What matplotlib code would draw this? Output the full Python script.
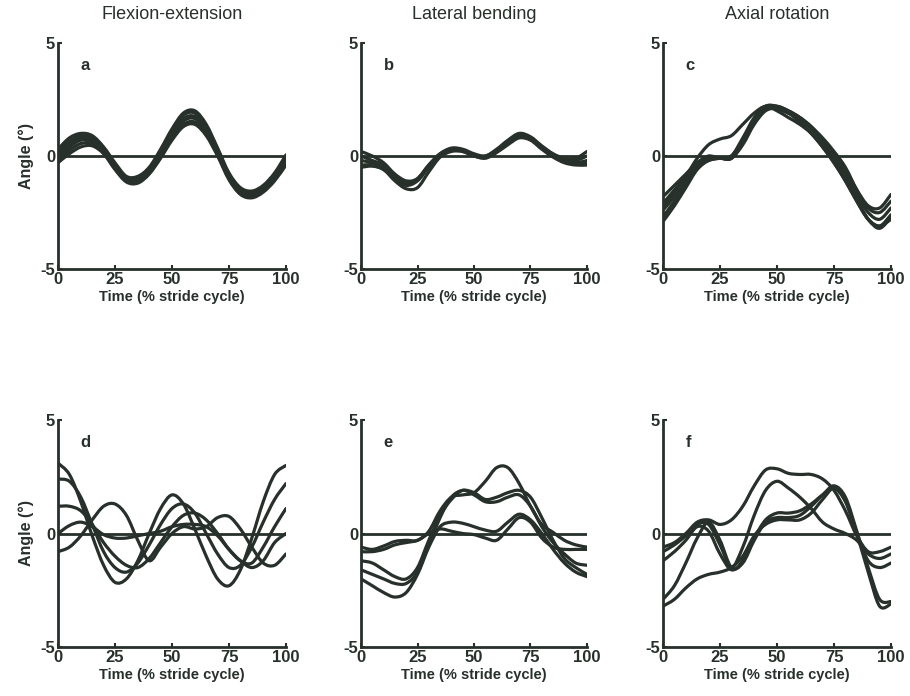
import matplotlib
matplotlib.use("Agg")
import matplotlib.pyplot as plt
from matplotlib.path import Path
from matplotlib.patches import PathPatch
import numpy as np

plt.rcParams['font.family'] = ['Liberation Sans', 'DejaVu Sans']
plt.rcParams['axes.unicode_minus'] = False

# ---------------- data ----------------
time_pct = [0, 5, 10, 15, 20, 25, 30, 35, 40, 45, 50, 55, 60, 65, 70, 75, 80, 85, 90, 95, 100]

col_titles = ["Flexion-extension", "Lateral bending", "Axial rotation"]
panel_letters = ["a", "b", "c", "d", "e", "f"]
x_ticks = [0, 25, 50, 75, 100]
y_ticks = [-5, 0, 5]

# panel a: flexion-extension (top)
a1 = [0.3, 0.8, 1.0, 0.9, 0.4, -0.3, -0.9, -0.9, -0.5, 0.3, 1.2, 1.9, 2.0, 1.4, 0.35, -0.75, -1.4, -1.55, -1.3, -0.75, 0.05]
a2 = [0.15, 0.65, 0.9, 0.85, 0.35, -0.4, -0.95, -0.95, -0.55, 0.2, 1.1, 1.8, 1.9, 1.3, 0.3, -0.85, -1.5, -1.65, -1.4, -0.85, -0.1]
a3 = [0.0, 0.5, 0.8, 0.75, 0.25, -0.45, -1.0, -1.0, -0.6, 0.1, 1.0, 1.65, 1.75, 1.2, 0.2, -0.9, -1.55, -1.7, -1.45, -0.9, -0.2]
a4 = [-0.1, 0.4, 0.7, 0.65, 0.2, -0.5, -1.05, -1.1, -0.7, 0.0, 0.9, 1.55, 1.65, 1.1, 0.1, -0.95, -1.6, -1.75, -1.5, -0.95, -0.25]
a5 = [-0.2, 0.25, 0.55, 0.55, 0.15, -0.55, -1.1, -1.15, -0.75, -0.05, 0.8, 1.4, 1.5, 1.0, 0.05, -1.0, -1.65, -1.8, -1.55, -1.0, -0.3]
a6 = [-0.3, 0.1, 0.4, 0.45, 0.1, -0.6, -1.15, -1.2, -0.8, -0.1, 0.7, 1.3, 1.4, 0.9, 0.0, -1.05, -1.7, -1.85, -1.6, -1.1, -0.4]

# panel b: lateral bending (top)
b1 = [0.2, 0.0, -0.3, -0.8, -1.1, -1.0, -0.4, 0.1, 0.35, 0.3, 0.1, 0.0, 0.3, 0.7, 1.0, 0.85, 0.45, 0.1, -0.1, -0.1, 0.2]
b2 = [0.0, -0.2, -0.4, -0.9, -1.2, -1.0, -0.4, 0.1, 0.3, 0.25, 0.05, 0.0, 0.25, 0.65, 0.95, 0.8, 0.4, 0.05, -0.15, -0.2, 0.0]
b3 = [-0.2, -0.3, -0.5, -0.9, -1.25, -1.05, -0.45, 0.05, 0.3, 0.25, 0.05, -0.05, 0.2, 0.6, 0.9, 0.75, 0.35, 0.0, -0.2, -0.3, -0.2]
b4 = [-0.4, -0.4, -0.6, -1.0, -1.3, -1.1, -0.5, 0.0, 0.25, 0.2, 0.0, -0.05, 0.2, 0.55, 0.85, 0.75, 0.35, 0.0, -0.25, -0.35, -0.3]
b5 = [-0.5, -0.45, -0.6, -1.1, -1.45, -1.4, -0.7, -0.05, 0.2, 0.2, 0.0, -0.1, 0.15, 0.5, 0.8, 0.7, 0.3, -0.05, -0.3, -0.4, -0.4]

# panel c: axial rotation (top)
c1 = [-1.8, -1.3, -0.8, -0.3, 0.0, -0.1, 0.0, 0.8, 1.7, 2.2, 2.1, 1.9, 1.6, 1.2, 0.7, 0.1, -0.6, -1.5, -2.2, -2.3, -1.7]
c2 = [-2.1, -1.5, -0.9, -0.3, -0.1, -0.1, 0.0, 0.7, 1.6, 2.1, 2.1, 1.9, 1.7, 1.3, 0.8, 0.2, -0.5, -1.5, -2.3, -2.5, -2.0]
c3 = [-2.4, -1.8, -1.1, -0.4, -0.1, -0.1, -0.1, 0.6, 1.5, 2.1, 2.2, 2.0, 1.7, 1.3, 0.7, 0.0, -0.8, -1.7, -2.5, -2.8, -2.3]
c4 = [-2.7, -2.0, -1.3, -0.5, -0.2, -0.1, -0.1, 0.5, 1.4, 2.0, 2.1, 1.9, 1.5, 1.0, 0.4, -0.3, -1.1, -2.0, -2.8, -3.1, -2.6]
c5 = [-2.3, -1.6, -0.9, -0.1, 0.5, 0.75, 0.9, 1.4, 1.9, 2.2, 2.0, 1.7, 1.4, 1.0, 0.4, -0.3, -1.1, -2.0, -2.8, -3.1, -2.8]
c6 = [-2.9, -2.2, -1.4, -0.6, -0.2, -0.1, -0.1, 0.6, 1.6, 2.2, 2.2, 2.0, 1.7, 1.2, 0.6, -0.1, -1.0, -1.9, -2.8, -3.2, -2.7]

# panel d: flexion-extension (bottom)
d1 = [3.1, 2.6, 1.4, -0.1, -1.4, -2.15, -2.0, -1.2, 0.0, 1.1, 1.7, 1.3, 0.2, -1.0, -2.0, -2.3, -1.6, -0.2, 1.4, 2.6, 3.0]
d2 = [2.4, 2.3, 1.6, 0.4, -0.8, -1.5, -1.7, -1.3, -0.5, 0.4, 1.1, 1.3, 0.9, 0.0, -0.9, -1.5, -1.4, -0.6, 0.5, 1.5, 2.2]
d3 = [1.2, 1.2, 1.0, 0.4, -0.4, -1.0, -1.4, -1.5, -1.1, -0.4, 0.3, 0.8, 0.9, 0.6, 0.0, -0.7, -1.2, -1.3, -0.6, 0.3, 1.1]
d4 = [0.0, 0.35, 0.5, 0.3, -0.05, -0.2, -0.2, -0.1, 0.0, 0.1, 0.3, 0.4, 0.4, 0.3, -0.1, -0.7, -1.2, -1.5, -1.2, -0.4, 0.0]
d5 = [-0.8, -0.6, -0.1, 0.6, 1.2, 1.3, 0.8, -0.3, -1.2, -0.6, 0.0, 0.3, 0.2, 0.3, 0.7, 0.75, 0.2, -0.6, -1.3, -1.4, -0.9]

# panel e: lateral bending (bottom)
e1 = [-0.6, -0.7, -0.55, -0.35, -0.3, -0.3, 0.1, 1.0, 1.6, 1.7, 1.8, 2.3, 2.9, 2.9, 2.2, 1.2, 0.4, 0.05, -0.3, -0.5, -0.6]
e2 = [-0.8, -0.8, -0.7, -0.5, -0.4, -0.3, 0.0, 0.2, 0.1, 0.0, -0.05, -0.2, -0.3, 0.2, 0.7, 0.5, -0.2, -0.6, -0.7, -0.7, -0.7]
e3 = [-1.2, -1.3, -1.6, -1.9, -2.0, -1.5, -0.3, 0.8, 1.5, 1.9, 1.7, 1.4, 1.4, 1.6, 1.7, 1.2, 0.3, -0.4, -0.9, -1.3, -1.4]
e4 = [-1.6, -1.8, -2.0, -2.2, -2.2, -1.7, -0.5, 0.7, 1.6, 1.9, 1.8, 1.5, 1.6, 1.8, 1.9, 1.6, 0.7, -0.3, -1.1, -1.5, -1.8]
e5 = [-2.0, -2.3, -2.6, -2.8, -2.6, -1.8, -0.6, 0.3, 0.5, 0.45, 0.3, 0.15, 0.1, 0.5, 0.85, 0.6, 0.0, -0.7, -1.3, -1.7, -1.9]

# panel f: axial rotation (bottom)
f1 = [-0.6, -0.4, 0.0, 0.5, 0.6, 0.4, 0.6, 1.2, 2.1, 2.8, 2.85, 2.65, 2.6, 2.6, 2.4, 1.9, 1.0, -0.1, -0.8, -0.8, -0.6]
f2 = [-0.8, -0.5, -0.1, 0.4, 0.4, -0.5, -1.5, -0.6, 0.8, 1.9, 2.3, 2.0, 1.6, 1.1, 0.5, 0.2, 0.0, -0.3, -0.9, -1.1, -0.9]
f3 = [-1.2, -0.8, -0.3, 0.3, 0.1, -0.9, -1.6, -1.2, -0.2, 0.6, 0.9, 0.9, 1.0, 1.3, 1.7, 2.0, 1.4, 0.0, -1.2, -1.5, -1.3]
f4 = [-2.9, -2.3, -1.3, -0.2, 0.5, -0.3, -1.5, -1.3, -0.3, 0.5, 0.7, 0.7, 0.8, 1.2, 1.7, 2.1, 1.6, 0.1, -1.5, -2.9, -3.0]
f5 = [-3.2, -2.9, -2.4, -2.0, -1.8, -1.7, -1.5, -1.0, -0.1, 0.4, 0.6, 0.6, 0.6, 0.9, 1.5, 2.0, 1.5, 0.0, -1.7, -3.2, -3.1]

panels = [
    [a1, a2, a3, a4, a5, a6],
    [b1, b2, b3, b4, b5],
    [c1, c2, c3, c4, c5, c6],
    [d1, d2, d3, d4, d5],
    [e1, e2, e3, e4, e5],
    [f1, f2, f3, f4, f5],
]

# ---------------- drawing ----------------
INK = '#27302b'
W, H = 910, 696


def smooth_path(xs, ys):
    """Catmull-Rom curve through the data points, as cubic Bezier segments."""
    p = np.column_stack([xs, ys]).astype(float)
    n = len(p)
    verts = [p[0]]
    codes = [Path.MOVETO]
    for i in range(n - 1):
        p0 = p[i - 1] if i > 0 else p[i]
        p1, p2 = p[i], p[i + 1]
        p3 = p[i + 2] if i + 2 < n else p[i + 1]
        verts += [p1 + (p2 - p0) / 6.0, p2 - (p3 - p1) / 6.0, p2]
        codes += [Path.CURVE4] * 3
    return Path(verts, codes)


fig = plt.figure(figsize=(W / 100, H / 100), dpi=100)
fig.patch.set_facecolor('white')

col_px = [(58, 286), (361, 587), (663, 891)]
row_px = [(43, 269), (420, 647)]

for idx, series in enumerate(panels):
    r, c = divmod(idx, 3)
    x0, x1 = col_px[c]
    y0, y1 = row_px[r]
    ax = fig.add_axes([x0 / W, 1 - y1 / H, (x1 - x0) / W, (y1 - y0) / H])
    ax.set_xlim(0, 100)
    ax.set_ylim(-5, 5)
    ax.axhline(0, color=INK, lw=2.0, zorder=1)
    for s in series:
        ax.add_patch(PathPatch(smooth_path(time_pct, s), facecolor='none',
                               edgecolor=INK, lw=2.3, capstyle='round',
                               joinstyle='round', zorder=2))
    for side in ('top', 'right'):
        ax.spines[side].set_visible(False)
    for side in ('left', 'bottom'):
        ax.spines[side].set_color(INK)
        ax.spines[side].set_linewidth(2.0)
    ax.set_xticks(x_ticks)
    ax.set_yticks(y_ticks)
    ax.tick_params(direction='in', length=3, width=1.5, color=INK,
                   labelsize=12, labelcolor=INK, pad=2)
    for lab in ax.get_xticklabels() + ax.get_yticklabels():
        lab.set_fontweight('bold')
    ax.set_xlabel("Time (% stride cycle)", fontsize=10.5, fontweight='bold',
                  color=INK, labelpad=2)
    if c == 0:
        ax.set_ylabel("Angle (°)", fontsize=11.5, fontweight='bold', color=INK,
                      labelpad=5)
    ax.text(10, 4.0, panel_letters[idx], fontsize=12, fontweight='bold',
            color=INK, ha='left', va='center')
    if r == 0:
        ax.set_title(col_titles[c], fontsize=13, color=INK, pad=17)

fig.savefig("out.png", dpi=100, facecolor='white')
